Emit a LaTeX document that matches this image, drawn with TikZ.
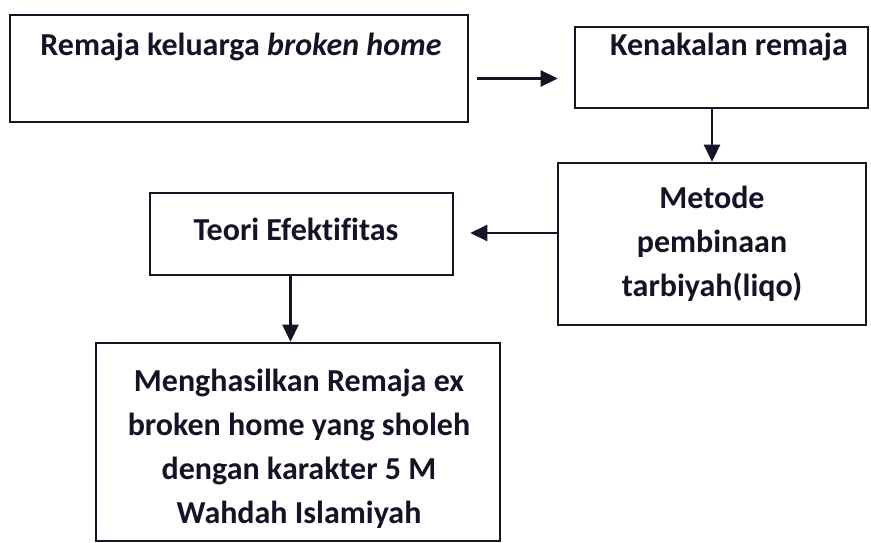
\documentclass[tikz,border=0pt]{standalone}
\usepackage{fontspec}
\setmainfont[Ligatures=NoCommon]{Carlito}
\usetikzlibrary{arrows.meta}
\definecolor{ink}{rgb}{0.08,0.08,0.15}
\begin{document}
\begin{tikzpicture}[x=1pt,y=-1pt,
  box/.style={draw=ink,line width=2.6pt,rectangle,inner sep=0pt},
  txt/.style={font=\fontsize{32}{44}\selectfont\bfseries,text=ink,align=center,inner sep=0pt},
  arr/.style={draw=ink,line width=2.6pt,-{Triangle[length=17pt,width=16pt]}}]
\useasboundingbox[fill=white] (0,0) rectangle (871,543);
\node[box,minimum width=458pt,minimum height=107pt] (b1) at (239,68.5) {};
\node[txt] (t1) at (241,47) {Remaja keluarga \textit{broken home}};
\node[box,minimum width=293pt,minimum height=81pt] (b2) at (721.5,67.5) {};
\node[txt] (t2) at (729,47) {Kenakalan remaja};
\node[box,minimum width=308pt,minimum height=162pt] (b3) at (712,244) {};
\node[txt] (t3) at (712,244) {Metode\\pembinaan\\tarbiyah(liqo)};
\node[box,minimum width=303pt,minimum height=82pt] (b4) at (301.5,234) {};
\node[txt] (t4) at (296,229) {Teori Efektifitas};
\node[box,minimum width=404pt,minimum height=198pt] (b5) at (298,442) {};
\node[txt] (t5) at (299,449) {Menghasilkan Remaja ex\\broken home yang sholeh\\dengan karakter 5 M\\Wahdah Islamiyah};
\coordinate (a1s) at ([yshift=-10pt]b1.east);
\coordinate (a3s) at ([yshift=11pt]b3.west);
\draw[arr,shorten <=8pt,shorten >=16pt] (a1s) -- (a1s -| b2.west);
\draw[arr] (b2.south -| b3.north) -- (b3.north);
\draw[arr,shorten >=16pt] (a3s) -- (a3s -| b4.east);
\draw[arr] ([xshift=-11pt]b4.south) -- ([xshift=-11pt]b4.south |- b5.north);
\end{tikzpicture}
\end{document}
